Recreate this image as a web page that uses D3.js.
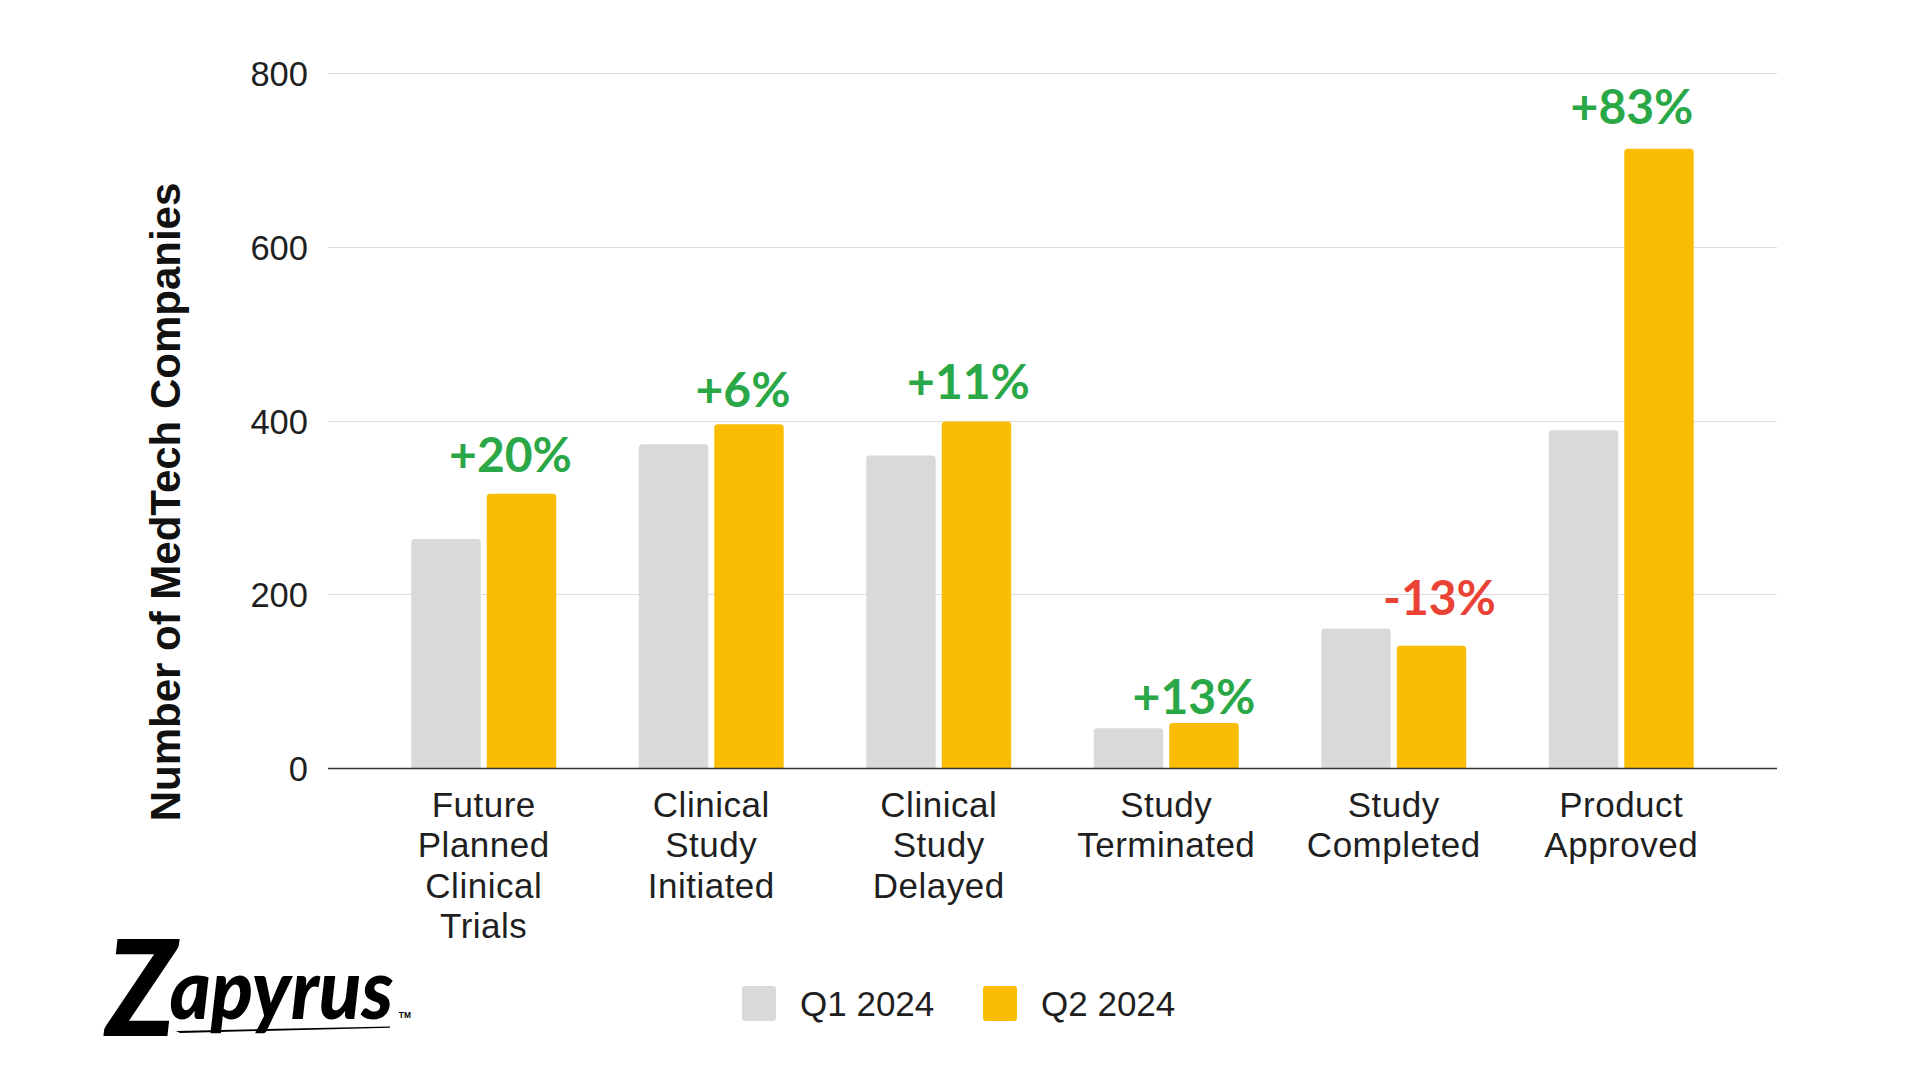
<!DOCTYPE html>
<html>
<head>
<meta charset="utf-8">
<script src="https://cdn.jsdelivr.net/npm/d3@7"></script>
<style>
  html, body { margin: 0; padding: 0; background: #ffffff; }
  svg { display: block; }
</style>
</head>
<body>
<svg id="chart" width="1920" height="1080"></svg>
<script>
// ---------------- DATA ----------------
const categories = [
  "Future Planned Clinical Trials",
  "Clinical Study Initiated",
  "Clinical Study Delayed",
  "Study Terminated",
  "Study Completed",
  "Product Approved"
];
const seriesNames = ["Q1 2024", "Q2 2024"];
const q1Values = [264, 373, 360, 46, 161, 389];
const q2Values = [316, 396, 399, 52, 141, 713];
const changeLabels = ["+20%", "+6%", "+11%", "+13%", "-13%", "+83%"];
const yTicks = [0, 200, 400, 600, 800];
const yTitle = "Number of MedTech Companies";
const brandName = "Zapyrus";

// ---------------- LAYOUT / STYLE ----------------
const colors = { q1: "#d9d9d9", q2: "#fbbc04", up: "#2aa847", down: "#ea4335", text: "#1f1f1f", grid: "#dcdcdc", axis: "#333333" };
const gridX0 = 328, gridX1 = 1777;
const labelNudgeX = [-11, -6, -8, -10, 8, -27];
const labelGap = [22, 17, 23, 9, 13, 25];

const svg = d3.select("#chart");

const y = d3.scaleLinear().domain([0, 800]).range([768.3, 73.1]);
const x0 = d3.scaleBand().domain(categories).range([370, 1735]).paddingInner(0.363).paddingOuter(0.1815);
const x1 = d3.scaleBand().domain(seriesNames).range([0, x0.bandwidth()]).paddingInner(0.08);

// gridlines
svg.append("g").selectAll("line").data(yTicks.filter(d => d !== 0)).join("line")
  .attr("x1", gridX0).attr("x2", gridX1)
  .attr("y1", d => Math.round(y(d)) + 0.5).attr("y2", d => Math.round(y(d)) + 0.5)
  .attr("stroke", colors.grid).attr("stroke-width", 1);

// y tick labels via axis
const yAxis = d3.axisLeft(y).tickValues(yTicks).tickSize(0).tickPadding(0);
const yg = svg.append("g").attr("transform", `translate(${gridX0 - 20},0)`).call(yAxis);
yg.select(".domain").remove();
yg.selectAll("text")
  .attr("font-family", "Liberation Sans, Arial, sans-serif")
  .attr("font-size", 34.5)
  .attr("fill", colors.text)
  .attr("dy", "0.36em");

// bars
function topRounded(x, yy, w, h, r) {
  r = Math.min(r, h, w / 2);
  return `M${x},${yy + h}V${yy + r}Q${x},${yy} ${x + r},${yy}H${x + w - r}Q${x + w},${yy} ${x + w},${yy + r}V${yy + h}Z`;
}
const barData = [];
categories.forEach((c, i) => {
  barData.push({ cat: c, s: seriesNames[0], v: q1Values[i], color: colors.q1 });
  barData.push({ cat: c, s: seriesNames[1], v: q2Values[i], color: colors.q2 });
});
svg.append("g").selectAll("path").data(barData).join("path")
  .attr("d", d => {
    const bx = x0(d.cat) + x1(d.s);
    const top = y(d.v);
    return topRounded(bx, top, x1.bandwidth(), y(0) - top, 3.5);
  })
  .attr("fill", d => d.color);

// baseline axis
svg.append("line")
  .attr("x1", gridX0).attr("x2", gridX1)
  .attr("y1", y(0) + 0.2).attr("y2", y(0) + 0.2)
  .attr("stroke", colors.axis).attr("stroke-width", 1.3);

// category labels (one word per line)
const catG = svg.append("g");
categories.forEach(c => {
  const words = c.split(" ");
  const cx = x0(c) + x0.bandwidth() / 2;
  const t = catG.append("text")
    .attr("x", cx)
    .attr("y", 816.7)
    .attr("text-anchor", "middle")
    .attr("font-family", "Liberation Sans, Arial, sans-serif")
    .attr("font-size", 35)
    .attr("letter-spacing", "0.5px")
    .attr("fill", colors.text);
  words.forEach((w, k) => {
    t.append("tspan").attr("x", cx).attr("dy", k === 0 ? 0 : 40.4).text(w);
  });
});

// change labels
svg.append("g").selectAll("text").data(categories).join("text")
  .attr("x", (c, i) => x0(c) + x1(seriesNames[1]) + x1.bandwidth() / 2 + labelNudgeX[i])
  .attr("y", (c, i) => y(Math.max(q1Values[i], q2Values[i])) - labelGap[i])
  .attr("text-anchor", "middle")
  .attr("font-family", "Lato, sans-serif")
  .attr("font-weight", 700)
  .attr("font-size", 48)
  .attr("fill", (c, i) => changeLabels[i].startsWith("-") ? colors.down : colors.up)
  .text((c, i) => changeLabels[i]);

// y title
svg.append("text")
  .attr("transform", "translate(180,502) rotate(-90)")
  .attr("text-anchor", "middle")
  .attr("font-family", "Liberation Sans, Arial, sans-serif")
  .attr("font-weight", 700)
  .attr("font-size", 42)
  .attr("fill", "#111")
  .text(yTitle);

// legend
const legend = svg.append("g");
const legendItems = [
  { name: seriesNames[0], color: colors.q1, sx: 742, tx: 800 },
  { name: seriesNames[1], color: colors.q2, sx: 983, tx: 1041 }
];
legendItems.forEach(it => {
  legend.append("rect").attr("x", it.sx).attr("y", 986).attr("width", 34).attr("height", 35)
    .attr("rx", 3).attr("fill", it.color);
  legend.append("text").attr("x", it.tx).attr("y", 1015.7)
    .attr("font-family", "Liberation Sans, Arial, sans-serif")
    .attr("font-size", 35).attr("fill", colors.text).text(it.name);
});

// brand logo (single text element with tspans)
const logo = svg.append("g");
logo.append("path")
  .attr("d", "M176,1031 L390,1026.5 L390,1027.8 L180,1033 Z")
  .attr("fill", "#000");
const lt = logo.append("text")
  .attr("transform", "translate(106,1036) scale(0.93,1)")
  .attr("font-family", "Lato, sans-serif")
  .attr("font-style", "italic")
  .attr("font-weight", 900)
  .attr("fill", "#000");
lt.append("tspan").attr("font-size", 134).text(brandName.slice(0, 1));
lt.append("tspan").attr("font-size", 84).attr("dx", -7).attr("dy", -17).text(brandName.slice(1));
lt.append("tspan").attr("font-size", 9).attr("font-style", "normal").attr("font-weight", 700)
  .attr("font-family", "Liberation Sans, Arial, sans-serif")
  .attr("dx", 6).attr("dy", -1).text("TM");
</script>
</body>
</html>
